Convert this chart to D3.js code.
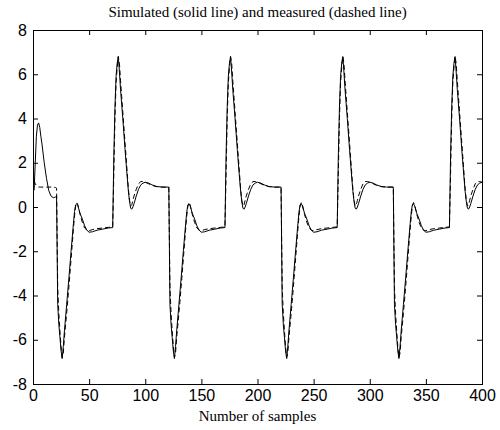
<!DOCTYPE html>
<html>
<head>
<meta charset="utf-8">
<script src="https://cdn.jsdelivr.net/npm/d3@7"></script>
<style>
  body { margin: 0; background: #fff; }
  .tick text { font-family: "Liberation Sans", Arial, sans-serif; font-size: 16px; fill: #000; }
  .tick line { stroke: #000; }
  .lbl { font-family: "Liberation Serif", "Times New Roman", serif; font-size: 15px; fill: #000; }
</style>
</head>
<body>
<div id="chart"></div>
<script>
const samples = [
  1, 2, 3, 4, 5, 6, 7, 8, 10, 12, 14, 16, 18, 20, 21,
  22, 23, 24, 25, 26, 27, 28, 30, 32, 34, 36, 37, 38, 39, 40, 42, 44, 46, 48, 50, 53, 57, 62, 67, 71,
  72, 73, 74, 75, 76, 77, 78, 80, 82, 84, 85, 86, 87, 88, 89, 90, 92, 94, 96, 98, 100, 103, 106, 110, 115, 121,
  122, 123, 124, 125, 126, 127, 128, 130, 132, 134, 136, 137, 138, 139, 140, 142, 144, 146, 148, 150, 153, 157, 162, 167, 171,
  172, 173, 174, 175, 176, 177, 178, 180, 182, 184, 185, 186, 187, 188, 189, 190, 192, 194, 196, 198, 200, 203, 206, 210, 215, 221,
  222, 223, 224, 225, 226, 227, 228, 230, 232, 234, 236, 237, 238, 239, 240, 242, 244, 246, 248, 250, 253, 257, 262, 267, 271,
  272, 273, 274, 275, 276, 277, 278, 280, 282, 284, 285, 286, 287, 288, 289, 290, 292, 294, 296, 298, 300, 303, 306, 310, 315, 321,
  322, 323, 324, 325, 326, 327, 328, 330, 332, 334, 336, 337, 338, 339, 340, 342, 344, 346, 348, 350, 353, 357, 362, 367, 371,
  372, 373, 374, 375, 376, 377, 378, 380, 382, 384, 385, 386, 387, 388, 389, 390, 392, 394, 396, 398, 400
];

// simulated output (solid line)
const simulated = [
  0.75, 2.0, 3.2, 3.7, 3.8, 3.6, 3.2, 2.85, 2.0, 1.3, 0.75, 0.5, 0.42, 0.45, 0.5,
  -4.4, -5.3, -5.9, -6.5, -6.85, -6.3, -5.6, -4.4, -3.2, -1.95, -0.75, -0.2, 0.1, 0.15, 0.05, -0.3, -0.55, -0.85, -1.05, -1.14, -1.12, -1.05, -1.0, -0.95, -0.93,
  2.3, 4.5, 5.9, 6.5, 6.8, 6.1, 5.3, 4.0, 2.6, 1.3, 0.7, 0.25, -0.05, -0.1, 0.0, 0.15, 0.5, 0.8, 1.0, 1.08, 1.12, 1.08, 1.0, 0.93, 0.9, 0.9,
  -4.4, -5.3, -5.9, -6.5, -6.85, -6.3, -5.6, -4.4, -3.2, -1.95, -0.75, -0.2, 0.1, 0.15, 0.05, -0.3, -0.55, -0.85, -1.05, -1.14, -1.12, -1.05, -1.0, -0.95, -0.93,
  2.3, 4.5, 5.9, 6.5, 6.8, 6.1, 5.3, 4.0, 2.6, 1.3, 0.7, 0.25, -0.05, -0.1, 0.0, 0.15, 0.5, 0.8, 1.0, 1.08, 1.12, 1.08, 1.0, 0.93, 0.9, 0.9,
  -4.4, -5.3, -5.9, -6.5, -6.85, -6.3, -5.6, -4.4, -3.2, -1.95, -0.75, -0.2, 0.1, 0.15, 0.05, -0.3, -0.55, -0.85, -1.05, -1.14, -1.12, -1.05, -1.0, -0.95, -0.93,
  2.3, 4.5, 5.9, 6.5, 6.8, 6.1, 5.3, 4.0, 2.6, 1.3, 0.7, 0.25, -0.05, -0.1, 0.0, 0.15, 0.5, 0.8, 1.0, 1.08, 1.12, 1.08, 1.0, 0.93, 0.9, 0.9,
  -4.4, -5.3, -5.9, -6.5, -6.85, -6.3, -5.6, -4.4, -3.2, -1.95, -0.75, -0.2, 0.1, 0.15, 0.05, -0.3, -0.55, -0.85, -1.05, -1.14, -1.12, -1.05, -1.0, -0.95, -0.93,
  2.3, 4.5, 5.9, 6.5, 6.8, 6.1, 5.3, 4.0, 2.6, 1.3, 0.7, 0.25, -0.05, -0.1, 0.0, 0.15, 0.5, 0.8, 1.0, 1.08, 1.12
];

// measured output (dashed line)
const measured = [
  1.2, 1.05, 0.97, 0.93, 0.9, 0.9, 0.9, 0.9, 0.9, 0.9, 0.9, 0.9, 0.9, 0.88, 0.85,
  -3.6, -4.8, -5.6, -6.3, -6.8, -6.6, -5.9, -4.8, -3.6, -2.3, -1.0, -0.4, 0.05, 0.2, 0.1, -0.35, -0.7, -0.95, -1.05, -1.07, -1.02, -0.98, -0.95, -0.92, -0.9,
  1.5, 4.0, 5.6, 6.3, 6.8, 6.5, 5.7, 4.3, 2.9, 1.5, 0.8, 0.3, 0.05, 0.1, 0.3, 0.5, 0.8, 1.05, 1.15, 1.15, 1.12, 1.05, 0.98, 0.92, 0.9, 0.9,
  -3.6, -4.8, -5.6, -6.3, -6.8, -6.6, -5.9, -4.8, -3.6, -2.3, -1.0, -0.4, 0.05, 0.2, 0.1, -0.35, -0.7, -0.95, -1.05, -1.07, -1.02, -0.98, -0.95, -0.92, -0.9,
  1.5, 4.0, 5.6, 6.3, 6.8, 6.5, 5.7, 4.3, 2.9, 1.5, 0.8, 0.3, 0.05, 0.1, 0.3, 0.5, 0.8, 1.05, 1.15, 1.15, 1.12, 1.05, 0.98, 0.92, 0.9, 0.9,
  -3.6, -4.8, -5.6, -6.3, -6.8, -6.6, -5.9, -4.8, -3.6, -2.3, -1.0, -0.4, 0.05, 0.2, 0.1, -0.35, -0.7, -0.95, -1.05, -1.07, -1.02, -0.98, -0.95, -0.92, -0.9,
  1.5, 4.0, 5.6, 6.3, 6.8, 6.5, 5.7, 4.3, 2.9, 1.5, 0.8, 0.3, 0.05, 0.1, 0.3, 0.5, 0.8, 1.05, 1.15, 1.15, 1.12, 1.05, 0.98, 0.92, 0.9, 0.9,
  -3.6, -4.8, -5.6, -6.3, -6.8, -6.6, -5.9, -4.8, -3.6, -2.3, -1.0, -0.4, 0.05, 0.2, 0.1, -0.35, -0.7, -0.95, -1.05, -1.07, -1.02, -0.98, -0.95, -0.92, -0.9,
  1.5, 4.0, 5.6, 6.3, 6.8, 6.5, 5.7, 4.3, 2.9, 1.5, 0.8, 0.3, 0.05, 0.1, 0.3, 0.5, 0.8, 1.05, 1.15, 1.15, 1.12
];

const xTicks = [0, 50, 100, 150, 200, 250, 300, 350, 400];
const yTicks = [-8, -6, -4, -2, 0, 2, 4, 6, 8];
const title = "Simulated (solid line) and measured (dashed line)";
const xLabel = "Number of samples";

// lienzo
const width = 500, height = 430;
const margin = { left: 33, top: 30, right: 18, bottom: 46 };
const w = width - margin.left - margin.right;
const h = height - margin.top - margin.bottom;

const svg = d3.select("#chart").append("svg")
  .attr("width", width)
  .attr("height", height);

const g = svg.append("g")
  .attr("transform", `translate(${margin.left},${margin.top})`);

const x = d3.scaleLinear().domain([0, 400]).range([0, w]);
const y = d3.scaleLinear().domain([-8, 8]).range([h, 0]);

// etiquetas con guion normal, como matlab
const plain = d => String(d);

// ejes, ticks hacia dentro como en matlab
g.append("g")
  .attr("transform", `translate(0,${h})`)
  .call(d3.axisBottom(x).tickValues(xTicks).tickFormat(plain).tickSizeInner(-5).tickSizeOuter(0).tickPadding(6))
  .call(a => a.select(".domain").remove());

g.append("g")
  .call(d3.axisLeft(y).tickValues(yTicks).tickFormat(plain).tickSizeInner(-5).tickSizeOuter(0).tickPadding(6))
  .call(a => a.select(".domain").remove());

g.append("g")
  .call(d3.axisTop(x).tickValues(xTicks).tickSizeInner(-5).tickSizeOuter(0).tickFormat(""))
  .call(a => a.select(".domain").remove());

g.append("g")
  .attr("transform", `translate(${w},0)`)
  .call(d3.axisRight(y).tickValues(yTicks).tickSizeInner(-5).tickSizeOuter(0).tickFormat(""))
  .call(a => a.select(".domain").remove());

g.append("rect")
  .attr("x", 0.5).attr("y", 0.5)
  .attr("width", w).attr("height", h)
  .attr("fill", "none")
  .attr("stroke", "#000");

const line = d3.line()
  .x((d, i) => x(samples[i]))
  .y(d => y(d));

g.append("path")
  .datum(simulated)
  .attr("fill", "none")
  .attr("stroke", "#000")
  .attr("stroke-width", 1)
  .attr("d", line);

g.append("path")
  .datum(measured)
  .attr("fill", "none")
  .attr("stroke", "#000")
  .attr("stroke-width", 1)
  .attr("stroke-dasharray", "5,3")
  .attr("d", line);

svg.append("text")
  .attr("class", "lbl")
  .attr("x", margin.left + w / 2)
  .attr("y", 17)
  .attr("text-anchor", "middle")
  .text(title);

svg.append("text")
  .attr("class", "lbl")
  .attr("x", margin.left + w / 2)
  .attr("y", 421)
  .attr("text-anchor", "middle")
  .text(xLabel);
</script>
</body>
</html>
